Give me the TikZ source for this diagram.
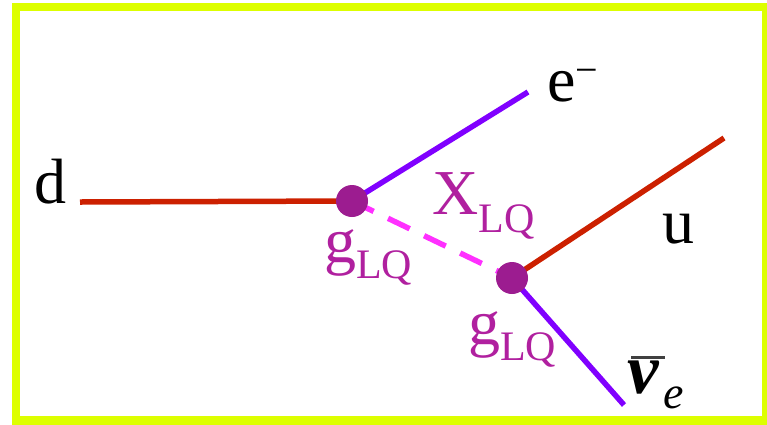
\documentclass[tikz,border=0pt]{standalone}
\usepackage{fontspec}
\setmainfont{Liberation Serif}[Ligatures=TeX]
\newfontfamily\tms{Liberation Serif}
\definecolor{frameyellow}{HTML}{DDFF00}
\definecolor{quarkred}{HTML}{CC2000}
\definecolor{leptonviolet}{HTML}{8000FF}
\definecolor{lqmagenta}{HTML}{FF30FF}
\definecolor{vertexpurple}{HTML}{9C1C90}
\definecolor{labelpurple}{HTML}{B0209F}
\definecolor{bargrey}{HTML}{404040}
\newcommand{\bigtxt}{\tms\fontsize{64}{70}\selectfont}
\newcommand{\subtxt}{\tms\fontsize{42}{48}\selectfont}
\begin{document}
\begin{tikzpicture}[x=1pt,y=-1pt,
  frame/.style={draw=frameyellow,line width=8.5pt},
  quark/.style={draw=quarkred,line width=5.5pt},
  lepton/.style={draw=leptonviolet,line width=5.5pt},
  lqline/.style={draw=lqmagenta,line width=5.5pt,dash pattern=on 24pt off 16pt},
  vtx/.style={circle,fill=vertexpurple,inner sep=0pt,minimum size=32pt},
  lbl/.style={inner sep=0pt,anchor=base west,font=\bigtxt},
  clbl/.style={lbl,text=labelpurple}]
\useasboundingbox (0,0) rectangle (767,424);
\draw[frame] (16,7) rectangle (766,420.5);
% coordinates
\coordinate (c1) at (352,201);
\coordinate (c2) at (512,278);
\coordinate (dL) at (80,202);
\coordinate (eE) at (528,92);
\coordinate (uE) at (724,138);
\coordinate (nE) at (624,405);
% propagators
\draw[quark] (dL) -- (c1);
\draw[lepton] (c1) -- (eE);
\draw[lqline] (c1) -- (c2);
\draw[quark] (c2) -- (uE);
\draw[lepton] (c2) -- (nE);
% vertices
\node[vtx] (v1) at (c1) {};
\node[vtx] (v2) at (c2) {};
% labels
\node[lbl] (ld) at (34,203) {d};
\node[lbl] (le) at (547,101) {e\raisebox{18pt}{\tms\fontsize{40}{40}\selectfont −}};
\node[lbl] (lu) at (662,243) {u};
\node[clbl] (lx) at (432,214) {X\raisebox{-18pt}{\subtxt LQ}};
\node[clbl] (lg1) at (324,262) {g\raisebox{-16pt}{\subtxt LQ}};
\node[clbl] (lg2) at (468,344) {g\raisebox{-16pt}{\subtxt LQ}};
\node[lbl,font=\tms\fontsize{71}{75}\selectfont\bfseries\itshape] (ln) at (627,393) {ν};
\node[lbl,font=\tms\fontsize{46}{50}\selectfont\itshape] (lne) at (663,408) {e};
\fill[bargrey] (631,356) rectangle (665,358.5);
\end{tikzpicture}
\end{document}
